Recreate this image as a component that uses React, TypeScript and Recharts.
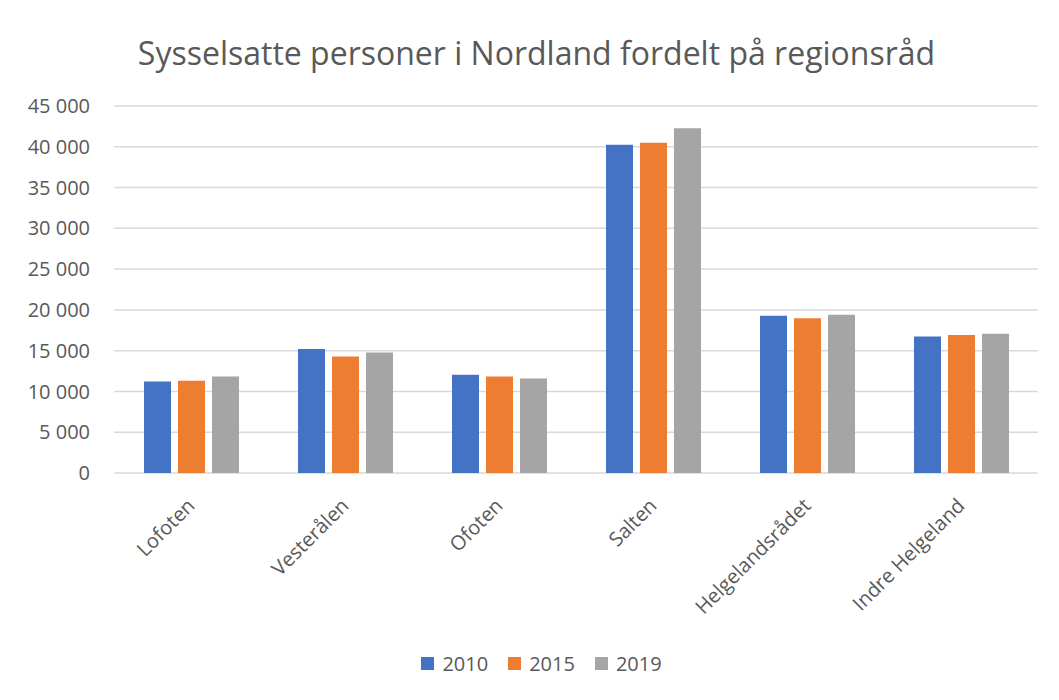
import React from "react";
import {
  BarChart,
  Bar,
  XAxis,
  YAxis,
  CartesianGrid,
  Legend
} from "recharts";

const regions = [
  "Lofoten",
  "Vesterålen",
  "Ofoten",
  "Salten",
  "Helgelandsrådet",
  "Indre Helgeland"
];

const values2010 = [11220, 15210, 12040, 40240, 19270, 16740];
const values2015 = [11300, 14300, 11830, 40490, 18990, 16910];
const values2019 = [11830, 14790, 11590, 42280, 19390, 17070];

const yTicks = [0, 5000, 10000, 15000, 20000, 25000, 30000, 35000, 40000, 45000];

const series = [
  { key: "2010", color: "#4472C4" },
  { key: "2015", color: "#ED7D31" },
  { key: "2019", color: "#A5A5A5" }
];

const data = regions.map((name, i) => ({
  name,
  "2010": values2010[i],
  "2015": values2015[i],
  "2019": values2019[i]
}));

const FONT = "'Open Sans', 'Noto Sans', sans-serif";
const TEXT = "#595959";

const fmt = (v: number) =>
  String(v).replace(/\B(?=(\d{3})+(?!\d))/g, " ");

const XTick = (props: any) => {
  const { x, y, payload } = props;
  return (
    <g transform={`translate(${x + 5},${y + 26})`}>
      <text
        transform="rotate(-45)"
        textAnchor="end"
        fill={TEXT}
        fontSize={20}
        fontFamily={FONT}
      >
        {payload.value}
      </text>
    </g>
  );
};

const LegendContent = () => (
  <div
    style={{
      display: "flex",
      justifyContent: "center",
      alignItems: "center",
      height: 30,
      fontFamily: FONT,
      fontSize: 20,
      color: TEXT,
      paddingLeft: 37
    }}
  >
    {series.map((s, i) => (
      <div
        key={s.key}
        style={{ display: "flex", alignItems: "center", marginLeft: i ? 20 : 0 }}
      >
        <span
          style={{
            width: 13,
            height: 13,
            background: s.color,
            display: "inline-block",
            marginRight: 8
          }}
        />
        <span>{s.key}</span>
      </div>
    ))}
  </div>
);

export default function App() {
  return (
    <div
      style={{
        position: "relative",
        width: 1051,
        height: 692,
        margin: "-1px 0 0 -1px",
        borderTop: "1px solid #d9d9d9",
        borderLeft: "1px solid #d9d9d9",
        background: "#fff"
      }}
    >
      <div
        style={{
          position: "absolute",
          top: 23,
          left: 0,
          width: 1051,
          paddingLeft: 6,
          boxSizing: "border-box",
          textAlign: "center",
          fontFamily: FONT,
          fontSize: 32,
          color: TEXT,
          lineHeight: "44px"
        }}
      >
        Sysselsatte personer i Nordland fordelt på regionsråd
      </div>
      <BarChart
        width={1051}
        height={692}
        data={data}
        margin={{ top: 98, right: 21, bottom: 22, left: 0 }}
        barSize={27}
        barGap={7}
      >
        <CartesianGrid
          vertical={false}
          stroke="#d9d9d9"
          strokeWidth={1.5}
        />
        <XAxis
          dataKey="name"
          axisLine={false}
          tickLine={false}
          interval={0}
          height={175}
          tick={<XTick />}
        />
        <YAxis
          domain={[0, 45000]}
          ticks={yTicks}
          width={106}
          axisLine={false}
          tickLine={false}
          tickMargin={18}
          tickFormatter={fmt}
          tick={{ fill: TEXT, fontSize: 20, fontFamily: FONT }}
        />
        <Legend verticalAlign="bottom" content={<LegendContent />} />
        {series.map((s) => (
          <Bar
            key={s.key}
            dataKey={s.key}
            fill={s.color}
            isAnimationActive={false}
          />
        ))}
      </BarChart>
    </div>
  );
}
